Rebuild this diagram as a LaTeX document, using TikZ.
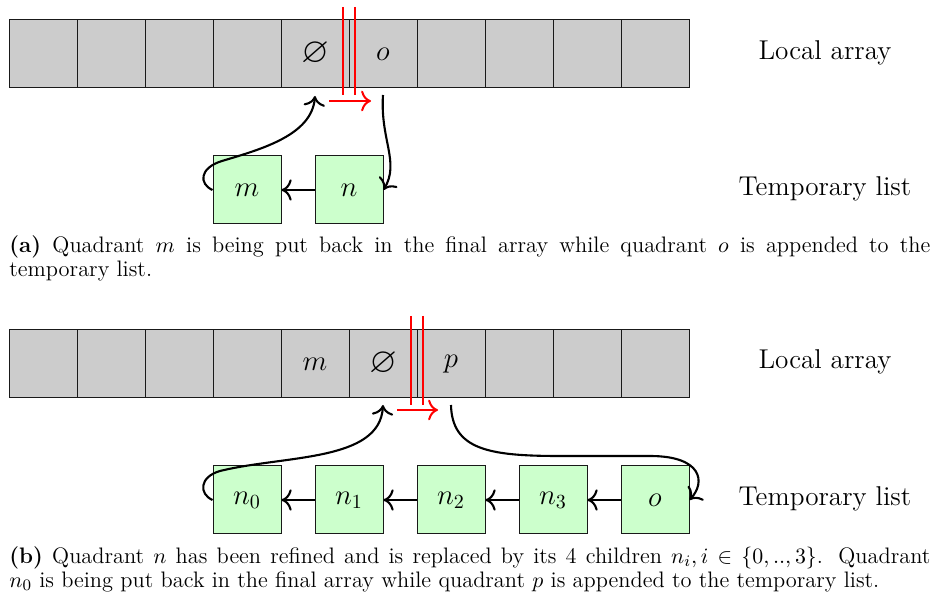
\documentclass[tikz,border=0pt]{standalone}
\usepackage{amssymb}
\usetikzlibrary{arrows.meta}
\newcommand{\myempty}{\scalebox{1.3}{$\varnothing$}}
\begin{document}
\begin{tikzpicture}[x=0.5pt,y=-0.5pt,>={To[scale=1.3]},
  cell/.style={draw=black!90, fill=black!20, minimum size=34pt, inner sep=0pt, line width=0.5pt, font=\fontsize{13.6}{16}\selectfont},
  qbox/.style={draw=black!90, fill=green!20, minimum size=34pt, inner sep=0pt, line width=0.5pt, font=\fontsize{13.6}{16}\selectfont},
  arr/.style={->, line width=1.05pt},
  redline/.style={red, line width=1pt},
  lab/.style={font=\fontsize{13.6}{16}\selectfont, inner sep=0pt},
  capt/.style={anchor=north west, inner sep=0pt, text width=460.5pt, align=justify, font=\fontsize{11.2}{12}\selectfont}]
\useasboundingbox (0,0) rectangle (931,597);

% ---------- panel (a) ----------
\foreach \i/\t in {0/{},1/{},2/{},3/{},4/{\myempty},5/{$o$},6/{},7/{},8/{},9/{}}
  \node[cell] (a\i) at ({43+68*\i},54) {\t};
\node[lab] (la) at (825,53) {Local array};
\node[lab] (ta) at (825,189) {Temporary list};

\draw[redline] (343,7) -- (343,95);
\draw[redline] (355,7) -- (355,95);
\coordinate (ra1) at (329,101);
\coordinate (ra2) at (371,101);
\draw[redline,->] (ra1) -- (ra2);

\node[qbox] (m) at (247,190) {$m$};
\node[qbox] (n) at (349,190) {$n$};
\draw[arr] (n) -- (m);

\coordinate (ea) at (315,96);
\coordinate (sa) at (383,95);
\draw[arr] (m.west) .. controls (199,184) and (199,168) .. (222,161)
  .. controls (262,149) and (312,135) .. (ea);
\draw[arr] (sa) .. controls (380,140) and (400,162) .. (n.east);

\node[capt] (capa) at (9,235) {\textbf{(a)} Quadrant $m$ is being put back in the final array while quadrant $o$ is appended to the\linebreak temporary list.};

% ---------- panel (b) ----------
\foreach \i/\t in {0/{},1/{},2/{},3/{},4/{$m$},5/{\myempty},6/{$p$},7/{},8/{},9/{}}
  \node[cell] (b\i) at ({43+68*\i},364) {\t};
\node[lab] (lb) at (825,362) {Local array};
\node[lab] (tb) at (825,499) {Temporary list};

\draw[redline] (411,316) -- (411,405);
\draw[redline] (423,316) -- (423,405);
\coordinate (rb1) at (397,410);
\coordinate (rb2) at (438,410);
\draw[redline,->] (rb1) -- (rb2);

\node[qbox] (n0) at (247,500) {$n_0$};
\node[qbox] (n1) at (349,500) {$n_1$};
\node[qbox] (n2) at (451,500) {$n_2$};
\node[qbox] (n3) at (553,500) {$n_3$};
\node[qbox] (o) at (655,500) {$o$};
\draw[arr] (n1) -- (n0);
\draw[arr] (n2) -- (n1);
\draw[arr] (n3) -- (n2);
\draw[arr] (o) -- (n3);

\coordinate (eb) at (383,405);
\coordinate (sb) at (451,405);
\draw[arr] (n0.west) .. controls (199,494) and (199,477) .. (220,471)
  .. controls (285,455) and (380,462) .. (eb);
\draw[arr] (sb) .. controls (452,450) and (490,456) .. (560,456)
  -- (650,456) .. controls (702,456) and (706,482) .. (o.east);

\node[capt] (capb) at (9,546) {\textbf{(b)} Quadrant $n$ has been refined and is replaced by its 4 children $n_i, i\in\{0,..,3\}$. Quadrant\linebreak $n_0$ is being put back in the final array while quadrant $p$ is appended to the temporary list.};
\end{tikzpicture}
\end{document}
